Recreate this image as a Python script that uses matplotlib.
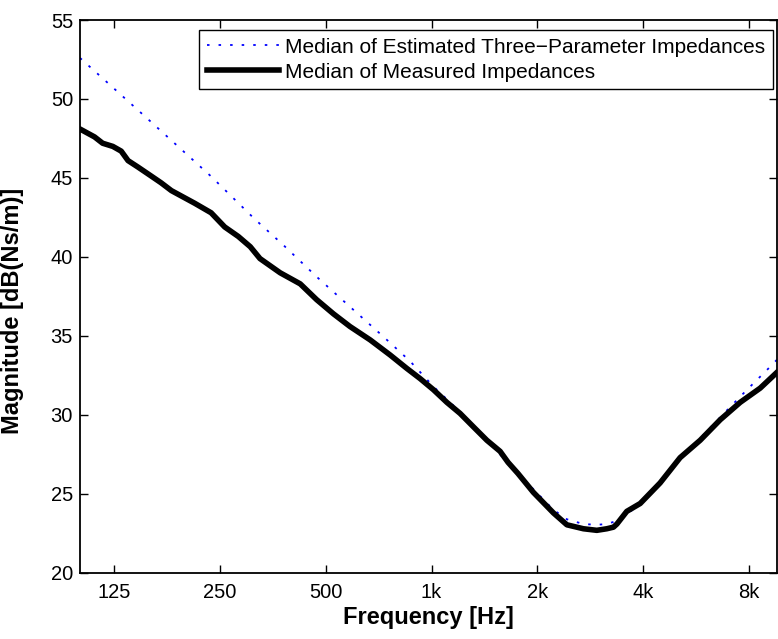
import matplotlib.pyplot as plt
from matplotlib.ticker import FixedLocator, NullLocator

plt.rcParams['font.family'] = ['Liberation Sans', 'DejaVu Sans']

# measured impedance median
freq_meas = [100, 110, 116, 124, 131, 137, 146, 160, 170, 182, 212, 236, 258, 282,
             305, 325, 371, 423, 471, 526, 586, 669, 762, 850, 928, 1012, 1105,
             1205, 1315, 1436, 1566, 1650, 1760, 1948, 2221, 2425, 2702, 2950, 3150,
             3290, 3365, 3590, 3920, 4465, 5090, 5805, 6620, 7545, 8600, 9600]
mag_meas = [48.1, 47.6, 47.2, 47.0, 46.7, 46.1, 45.7, 45.1, 44.7, 44.2, 43.4, 42.8,
            41.9, 41.3, 40.65, 39.9, 39.0, 38.3, 37.3, 36.4, 35.6, 34.75, 33.8,
            32.95, 32.3, 31.6, 30.8, 30.1, 29.25, 28.4, 27.7, 27.0, 26.3, 25.1, 23.8,
            23.05, 22.8, 22.7, 22.8, 22.9, 23.1, 23.9, 24.4, 25.7, 27.3, 28.4,
            29.7, 30.8, 31.7, 32.7]

# estimated three-parameter impedance median
freq_est = [100, 123, 153, 190, 236, 314, 379, 471, 586, 730, 869, 1012, 1205,
            1436, 1637, 1948, 2221, 2425, 2702, 2950, 3150, 3365, 3590, 3920,
            4465, 5090, 6050, 6920, 7890, 8990, 9600]
mag_est = [52.6, 50.8, 48.9, 47.0, 45.1, 42.4, 40.75, 38.75, 36.85, 34.95, 33.4,
           31.8, 30.2, 28.5, 27.0, 25.3, 24.0, 23.4, 23.1, 23.05, 23.1, 23.3,
           23.7, 24.4, 25.8, 27.2, 28.95, 30.3, 31.6, 32.85, 33.5]

xticks = [125, 250, 500, 1000, 2000, 4000, 8000]
xticklabels = ['125', '250', '500', '1k', '2k', '4k', '8k']
yticks = [20, 25, 30, 35, 40, 45, 50, 55]

fig = plt.figure(figsize=(7.78, 6.39), dpi=100)
ax = fig.add_axes([0.1028, 0.1033, 0.8959, 0.8654])

ax.plot(freq_est, mag_est, color='blue', linewidth=1.3, dashes=(1.4, 5.0),
        label='Median of Estimated Three\u2212Parameter Impedances')
ax.plot(freq_meas, mag_meas, color='black', linewidth=4,
        label='Median of Measured Impedances')

ax.set_xscale('log')
ax.set_xlim(100, 9600)
ax.set_ylim(20, 55)
ax.xaxis.set_major_locator(FixedLocator(xticks))
ax.xaxis.set_minor_locator(NullLocator())
ax.set_xticklabels(xticklabels)
ax.set_yticks(yticks)

ax.tick_params(direction='in', length=6, width=1, top=True, right=True,
               labelsize=14.5)
ax.tick_params(axis='x', pad=7)
ax.tick_params(axis='y', pad=5)
for s in ax.spines.values():
    s.set_linewidth(1.3)

ax.set_xlabel('Frequency [Hz]', fontsize=17, fontweight='bold', labelpad=3)
ax.set_ylabel('Magnitude [dB(Ns/m)]', fontsize=17, fontweight='bold')
ax.yaxis.set_label_coords(-0.080, 0.474)

leg = ax.legend(loc='upper right', bbox_to_anchor=(0.9938, 0.9819),
                borderaxespad=0, fontsize=15, handlelength=3.45,
                handletextpad=0.3, labelspacing=0.3, borderpad=0.36,
                fancybox=False, framealpha=1, edgecolor='black')
leg.get_frame().set_linewidth(1.0)

fig.savefig('out.png', dpi=100)
